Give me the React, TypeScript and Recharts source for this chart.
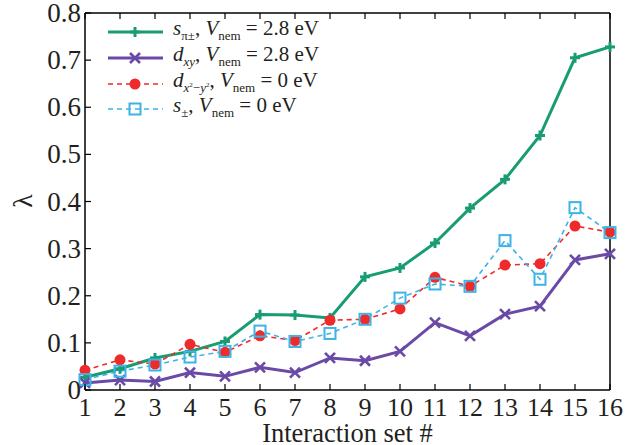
import React from "react";
import { Line, LineChart, XAxis, YAxis } from "recharts";

const interactionSets = [1, 2, 3, 4, 5, 6, 7, 8, 9, 10, 11, 12, 13, 14, 15, 16];
const sPiPm28 = [0.027, 0.045, 0.068, 0.082, 0.103, 0.16, 0.159, 0.153, 0.24, 0.259, 0.312, 0.386, 0.447, 0.54, 0.705, 0.728];
const dxy28 = [0.015, 0.021, 0.018, 0.037, 0.029, 0.048, 0.037, 0.068, 0.062, 0.082, 0.143, 0.115, 0.161, 0.178, 0.276, 0.289];
const dx2y2_0 = [0.042, 0.064, 0.055, 0.097, 0.08, 0.115, 0.105, 0.148, 0.15, 0.172, 0.239, 0.22, 0.265, 0.268, 0.348, 0.335];
const spm0 = [0.022, 0.04, 0.053, 0.07, 0.082, 0.125, 0.103, 0.12, 0.15, 0.195, 0.225, 0.22, 0.317, 0.235, 0.387, 0.334];
const yTicks = [0, 0.1, 0.2, 0.3, 0.4, 0.5, 0.6, 0.7, 0.8];

const GREEN = "#179c74";
const PURPLE = "#6a4aa6";
const RED = "#ee2a2b";
const BLUE = "#3db3e6";
const TEXT = "#231f20";
const FONT = "'Liberation Serif', 'Times New Roman', serif";

const data = interactionSets.map((x, i) => ({
  x,
  green: sPiPm28[i],
  purple: dxy28[i],
  red: dx2y2_0[i],
  blue: spm0[i],
}));

function PlusMark({ cx, cy, color }: { cx: number; cy: number; color: string }) {
  return (
    <g stroke={color} strokeWidth={3}>
      <line x1={cx - 5} y1={cy} x2={cx + 5} y2={cy} />
      <line x1={cx} y1={cy - 5} x2={cx} y2={cy + 5} />
    </g>
  );
}

function CrossMark({ cx, cy, color }: { cx: number; cy: number; color: string }) {
  return (
    <g stroke={color} strokeWidth={2.6}>
      <line x1={cx - 5} y1={cy - 5} x2={cx + 5} y2={cy + 5} />
      <line x1={cx - 5} y1={cy + 5} x2={cx + 5} y2={cy - 5} />
    </g>
  );
}

function CircleMark({ cx, cy, color }: { cx: number; cy: number; color: string }) {
  return <circle cx={cx} cy={cy} r={5.5} fill={color} stroke="none" />;
}

function SquareMark({ cx, cy, color }: { cx: number; cy: number; color: string }) {
  return <rect x={cx - 5.5} y={cy - 5.5} width={11} height={11} fill="none" stroke={color} strokeWidth={2} />;
}

function BottomTick(props: any) {
  const { x, y, payload } = props;
  return (
    <g>
      <line x1={x} y1={y} x2={x} y2={y - 6} stroke="#000" strokeWidth={1.2} />
      <text x={x} y={y + 26} textAnchor="middle" fontFamily={FONT} fontSize={26} fill={TEXT}>
        {payload.value}
      </text>
    </g>
  );
}

function TopTick(props: any) {
  const { x, y } = props;
  return <line x1={x} y1={y} x2={x} y2={y + 6} stroke="#000" strokeWidth={1.2} />;
}

function LeftTick(props: any) {
  const { x, y, payload } = props;
  const label = payload.value === 0 ? "0" : payload.value.toFixed(1);
  return (
    <g>
      <line x1={x} y1={y} x2={x + 6} y2={y} stroke="#000" strokeWidth={1.2} />
      <text x={x - 4} y={y + 9} textAnchor="end" fontFamily={FONT} fontSize={27} fill={TEXT}>
        {label}
      </text>
    </g>
  );
}

function RightTick(props: any) {
  const { x, y } = props;
  return <line x1={x} y1={y} x2={x - 6} y2={y} stroke="#000" strokeWidth={1.2} />;
}

function XLabel(props: any) {
  const { viewBox } = props;
  return (
    <text
      x={viewBox.x + viewBox.width / 2}
      y={viewBox.y + viewBox.height - 3}
      textAnchor="middle"
      fontFamily={FONT}
      fontSize={26.5}
      fill={TEXT}
    >
      Interaction set #
    </text>
  );
}

const subStyle: React.CSSProperties = { fontSize: 13, verticalAlign: -5, fontStyle: "normal" };

function LegendRow({ top, dashed, color, mark, children }: any) {
  return (
    <div style={{ position: "absolute", left: 0, top: top - 15, height: 30, display: "flex", alignItems: "center" }}>
      <svg width={64} height={30} style={{ display: "block" }}>
        <line
          x1={8}
          y1={15}
          x2={63}
          y2={15}
          stroke={color}
          strokeWidth={dashed ? 1.6 : 3}
          strokeDasharray={dashed ? "5 4" : undefined}
        />
        {mark(35, 15)}
      </svg>
      <div style={{ marginLeft: 9, fontFamily: FONT, fontSize: 21, color: TEXT, whiteSpace: "nowrap", lineHeight: "30px" }}>
        {children}
      </div>
    </div>
  );
}

function Vnem() {
  return (
    <>
      <i>V</i>
      <span style={subStyle}>nem</span>
    </>
  );
}

export default function App() {
  return (
    <div style={{ position: "absolute", left: 0, top: 0, width: 641, height: 445, background: "#fff" }}>
      <LineChart width={641} height={445} data={data} margin={{ top: 12, right: 30, left: 0, bottom: 0 }}>
        <XAxis
          dataKey="x"
          type="number"
          domain={[1, 16]}
          ticks={interactionSets}
          height={55}
          tickSize={0}
          tickMargin={0}
          tickLine={false}
          axisLine={{ stroke: "#000", strokeWidth: 1.5 }}
          tick={<BottomTick />}
          label={<XLabel />}
        />
        <XAxis
          xAxisId="top"
          orientation="top"
          dataKey="x"
          type="number"
          domain={[1, 16]}
          ticks={interactionSets}
          height={1}
          tickSize={0}
          tickMargin={0}
          tickLine={false}
          axisLine={{ stroke: "#000", strokeWidth: 1.5 }}
          tick={<TopTick />}
        />
        <YAxis
          type="number"
          domain={[0, 0.8]}
          ticks={yTicks}
          width={85}
          tickSize={0}
          tickMargin={0}
          tickLine={false}
          axisLine={{ stroke: "#000", strokeWidth: 1.5 }}
          tick={<LeftTick />}
        />
        <YAxis
          yAxisId="right"
          orientation="right"
          type="number"
          domain={[0, 0.8]}
          ticks={yTicks}
          width={1}
          tickSize={0}
          tickMargin={0}
          tickLine={false}
          axisLine={{ stroke: "#000", strokeWidth: 1.5 }}
          tick={<RightTick />}
        />
        <Line
          dataKey="green"
          stroke={GREEN}
          strokeWidth={3}
          isAnimationActive={false}
          dot={(p: any) => <PlusMark key={`g${p.index}`} cx={p.cx} cy={p.cy} color={GREEN} />}
        />
        <Line
          dataKey="purple"
          stroke={PURPLE}
          strokeWidth={3}
          isAnimationActive={false}
          dot={(p: any) => <CrossMark key={`p${p.index}`} cx={p.cx} cy={p.cy} color={PURPLE} />}
        />
        <Line
          dataKey="red"
          stroke={RED}
          strokeWidth={1.6}
          strokeDasharray="5 4"
          isAnimationActive={false}
          dot={(p: any) => <CircleMark key={`r${p.index}`} cx={p.cx} cy={p.cy} color={RED} />}
        />
        <Line
          dataKey="blue"
          stroke={BLUE}
          strokeWidth={1.6}
          strokeDasharray="5 4"
          isAnimationActive={false}
          dot={(p: any) => <SquareMark key={`b${p.index}`} cx={p.cx} cy={p.cy} color={BLUE} />}
        />
      </LineChart>
      <div
        style={{
          position: "absolute",
          left: 23,
          top: 201,
          transform: "translate(-50%, -50%) rotate(-90deg)",
          fontFamily: FONT,
          fontSize: 28,
          lineHeight: 1,
          color: TEXT,
        }}
      >
        λ
      </div>
      <div style={{ position: "absolute", left: 100, top: 0 }}>
        <LegendRow top={31.5} color={GREEN} mark={(x: number, y: number) => <PlusMark cx={x} cy={y} color={GREEN} />}>
          <i>s</i>
          <span style={subStyle}>π±</span>, <Vnem /> = 2.8 eV
        </LegendRow>
        <LegendRow top={57.5} color={PURPLE} mark={(x: number, y: number) => <CrossMark cx={x} cy={y} color={PURPLE} />}>
          <i>d</i>
          <span style={{ ...subStyle, fontStyle: "italic" }}>xy</span>, <Vnem /> = 2.8 eV
        </LegendRow>
        <LegendRow top={83.5} dashed color={RED} mark={(x: number, y: number) => <CircleMark cx={x} cy={y} color={RED} />}>
          <i>d</i>
          <span style={subStyle}>
            <i>x</i>
            <span style={{ fontSize: 7, verticalAlign: 5 }}>2</span>−<i>y</i>
            <span style={{ fontSize: 7, verticalAlign: 5 }}>2</span>
          </span>
          , <Vnem /> = 0 eV
        </LegendRow>
        <LegendRow top={109} dashed color={BLUE} mark={(x: number, y: number) => <SquareMark cx={x} cy={y} color={BLUE} />}>
          <i>s</i>
          <span style={subStyle}>±</span>, <Vnem /> = 0 eV
        </LegendRow>
      </div>
    </div>
  );
}
